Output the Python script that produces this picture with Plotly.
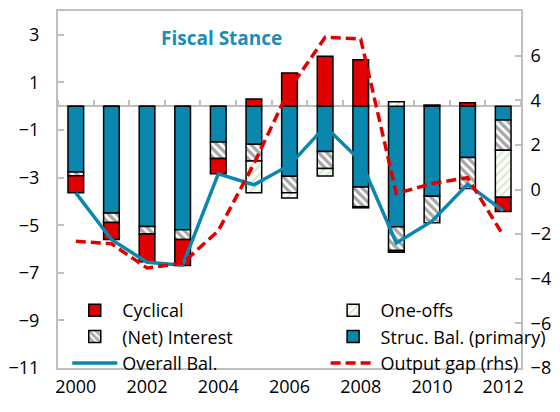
import plotly.graph_objects as go

years = list(range(2000, 2013))

# components of the overall balance (% of GDP, lhs)
struc_bal = [-2.76, -4.49, -5.05, -5.19, -1.50, -1.60, -2.94, -1.90, -3.39, -5.07, -3.78, -2.16, -0.58]
net_interest = [-0.16, -0.40, -0.32, -0.41, -0.70, -0.70, -0.70, -0.72, -0.83, -0.99, -1.12, -1.30, -1.27]
one_offs = [0, 0, 0, 0, 0, -1.34, -0.22, -0.31, -0.05, 0.19, 0, 0, -1.98]
cyclical = [-0.72, -0.71, -1.17, -1.09, -0.64, 0.30, 1.40, 2.10, 1.95, -0.08, 0.05, 0.14, -0.59]

overall_bal = [-3.64, -5.60, -6.56, -6.68, -2.84, -3.30, -2.48, -0.85, -2.30, -5.75, -4.83, -3.28, -4.40]
output_gap = [-2.32, -2.43, -3.52, -3.30, -1.85, 1.15, 4.50, 6.82, 6.74, -0.18, 0.26, 0.53, -2.05]

left_ticks = [3, 1, -1, -3, -5, -7, -9, -11]
right_ticks = [8, 6, 4, 2, 0, -2, -4, -6, -8]

BLUE = '#0A87AF'
RED = '#E00000'
GRAY = '#BFBFBF'
FONT = 'Open Sans'

bar_line = dict(color='black', width=1.5)
bar_width = 0.44

fig = go.Figure()

# stacking order: structural first, then interest, one-offs, cyclical
fig.add_trace(go.Bar(
    x=years, y=struc_bal, name='Struc. Bal. (primary)', width=bar_width,
    marker=dict(color=BLUE, line=bar_line), legend='legend2', legendrank=2,
))
fig.add_trace(go.Bar(
    x=years, y=net_interest, name='(Net) Interest', width=bar_width,
    marker=dict(color='white', line=bar_line,
                pattern=dict(shape='\\', fgcolor='#4D4D4D', bgcolor='white',
                             size=6, solidity=0.55)),
    legend='legend', legendrank=2,
))
fig.add_trace(go.Bar(
    x=years, y=one_offs, name='One-offs', width=bar_width,
    marker=dict(color='white', line=bar_line,
                pattern=dict(shape='/', fgcolor='#A6D68F', bgcolor='white',
                             size=6, solidity=0.35)),
    legend='legend2', legendrank=1,
))
fig.add_trace(go.Bar(
    x=years, y=cyclical, name='Cyclical', width=bar_width,
    marker=dict(color=RED, line=bar_line), legend='legend', legendrank=1,
))
fig.add_trace(go.Scatter(
    x=years, y=overall_bal, name='Overall Bal.', mode='lines',
    line=dict(color=BLUE, width=3.5), legend='legend', legendrank=3,
))
fig.add_trace(go.Scatter(
    x=years, y=output_gap, name='Output gap (rhs)', mode='lines',
    line=dict(color=RED, width=3.5, dash='10px,5px'),
    xaxis='x2', yaxis='y2', legend='legend2', legendrank=3,
))

fig.add_annotation(
    text='<b>Fiscal Stance</b>', x=0.354, y=0.925, xref='paper', yref='paper',
    xanchor='center', yanchor='middle', showarrow=False,
    font=dict(family=FONT, size=19, color='#1A8CBA'),
)

legend_style = dict(
    orientation='v', yanchor='top', y=0.213, xanchor='left',
    bgcolor='rgba(0,0,0,0)', font=dict(size=18), itemwidth=45,
    traceorder='normal',
)

# page body keeps an 8px margin, so the figure is 8px smaller each way
fig.update_layout(
    width=552, height=404,
    margin=dict(l=50, r=39, t=3, b=44, autoexpand=False),
    paper_bgcolor='white', plot_bgcolor='white',
    barmode='relative',
    font=dict(family=FONT, size=18, color='black'),
    showlegend=True,
    legend=dict(x=0.02, **legend_style),
    legend2=dict(x=0.578, **legend_style),
    xaxis=dict(
        range=[1999.5, 2012.5], tickvals=years[::2], ticks='',
        showline=True, linecolor=GRAY, linewidth=2, mirror=True,
        showgrid=False, zeroline=False, ticklabelstandoff=1,
    ),
    xaxis2=dict(
        overlaying='x', matches='x', anchor='free', side='top',
        position=11 / 15, showticklabels=False, showgrid=False,
        zeroline=False, showline=False,
        ticks='outside', tick0=1999.5, dtick=1, ticklen=6,
        tickcolor=GRAY, tickwidth=2,
    ),
    yaxis=dict(
        range=[-11, 4], tickvals=left_ticks, ticks='inside', ticklen=6,
        tickcolor=GRAY, tickwidth=2, showline=True, linecolor=GRAY,
        linewidth=2, showgrid=False, zeroline=True, zerolinecolor=GRAY,
        zerolinewidth=2, ticklabelstandoff=13,
    ),
    yaxis2=dict(
        range=[-8, 8], tickvals=right_ticks, overlaying='y', side='right',
        anchor='x', ticks='inside', ticklen=6, tickcolor=GRAY, tickwidth=2,
        showline=True, linecolor=GRAY, linewidth=2, showgrid=False,
        zeroline=False, ticklabelstandoff=4,
    ),
)

fig.write_html("out.html")
